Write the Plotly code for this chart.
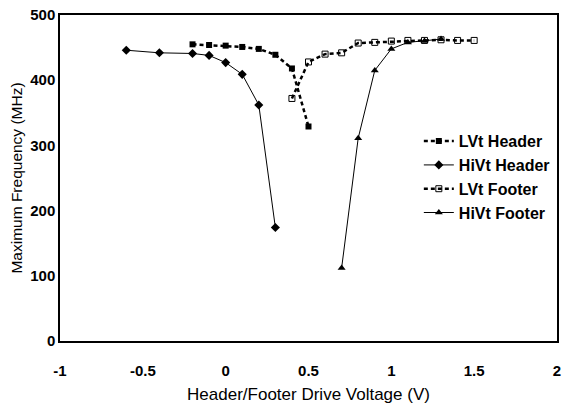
import plotly.graph_objects as go

# Data
lvt_header_x = [-0.2, -0.1, 0.0, 0.1, 0.2, 0.3, 0.4, 0.5]
lvt_header_y = [455, 454, 453, 451, 448, 439, 418, 329]

hivt_header_x = [-0.6, -0.4, -0.2, -0.1, 0.0, 0.1, 0.2, 0.3]
hivt_header_y = [446, 442, 441, 438, 427, 409, 362, 174]

lvt_footer_x = [0.4, 0.5, 0.6, 0.7, 0.8, 0.9, 1.0, 1.1, 1.2, 1.3, 1.4, 1.5]
lvt_footer_y = [372, 428, 440, 442, 457, 458, 460, 461, 461, 462, 461, 461]

hivt_footer_x = [0.7, 0.8, 0.9, 1.0, 1.1, 1.2, 1.3]
hivt_footer_y = [112, 311, 415, 448, 458, 460, 463]

x_tick_vals = [-1, -0.5, 0, 0.5, 1, 1.5, 2]
x_tick_text = ["-1", "-0.5", "0", "0.5", "1", "1.5", "2"]
y_tick_vals = [0, 100, 200, 300, 400, 500]

FONT = "Liberation Sans, Arial, sans-serif"

fig = go.Figure()
fig.add_trace(go.Scatter(
    x=lvt_header_x, y=lvt_header_y, name="LVt Header", mode="lines+markers",
    line=dict(color="black", width=2.5, dash="4px,3px"),
    marker=dict(symbol="square", size=6, color="black")))
fig.add_trace(go.Scatter(
    x=hivt_header_x, y=hivt_header_y, name="HiVt Header", mode="lines+markers",
    line=dict(color="black", width=1),
    marker=dict(symbol="diamond", size=7, color="black")))
fig.add_trace(go.Scatter(
    x=lvt_footer_x, y=lvt_footer_y, name="LVt Footer", mode="lines+markers",
    line=dict(color="black", width=2.5, dash="4px,3px"),
    marker=dict(symbol="square-open", size=6, color="black", line=dict(width=1))))
fig.add_trace(go.Scatter(
    x=hivt_footer_x, y=hivt_footer_y, name="HiVt Footer", mode="lines+markers",
    line=dict(color="black", width=1),
    marker=dict(symbol="triangle-up", size=7, color="black")))

fig.update_layout(
    width=564, height=404,
    margin=dict(l=60, r=7, t=15, b=63),
    paper_bgcolor="white", plot_bgcolor="white",
    font=dict(family=FONT, color="black"),
    showlegend=True,
    legend=dict(x=0.722, y=0.665, xanchor="left", yanchor="top",
                font=dict(family=FONT, size=16, color="black", weight="bold"),
                bgcolor="rgba(0,0,0,0)", tracegroupgap=0, itemwidth=30),
    xaxis=dict(range=[-1, 2], tickvals=x_tick_vals, ticktext=x_tick_text,
               showgrid=False, zeroline=False, showline=True, linecolor="black",
               linewidth=1.5, mirror=True, ticks="", ticklabelstandoff=15,
               automargin=False,
               tickfont=dict(family=FONT, size=15, weight="bold"),
               title=dict(text="Header/Footer Drive Voltage (V)",
                          font=dict(family=FONT, size=17), standoff=12)),
    yaxis=dict(range=[0, 500], tickvals=y_tick_vals,
               showgrid=False, zeroline=False, showline=True, linecolor="black",
               linewidth=1.5, mirror=True, ticks="", automargin=False,
               tickfont=dict(family=FONT, size=15, weight="bold"),
               title=dict(text="Maximum Frequency (MHz)",
                          font=dict(family=FONT, size=15.5), standoff=4)),
)

fig.write_html("out.html")
